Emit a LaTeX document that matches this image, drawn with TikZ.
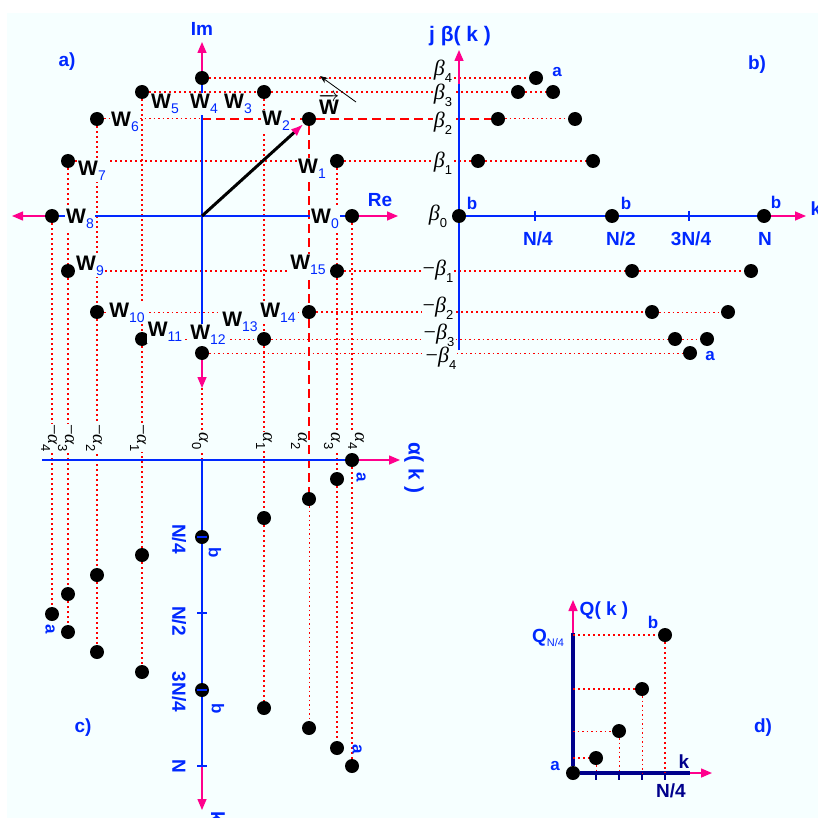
\documentclass[tikz,border=0pt]{standalone}
\usepackage{fontspec}
\setmainfont{Liberation Sans}
\newfontfamily\grkfont{Liberation Serif}
\usepackage{tikz}
\usetikzlibrary{arrows.meta,calc}
\definecolor{bgcyan}{RGB}{246,255,255}
\definecolor{axblue}{RGB}{0,40,255}
\definecolor{navyax}{RGB}{0,0,140}
\definecolor{tippink}{RGB}{255,0,140}
\definecolor{projred}{RGB}{255,0,0}
\tikzset{
    wdot/.style={
        circle,
        fill=black,
        inner sep=0pt,
        minimum size=14pt
    },
    proj/.style={
        projred,
        line width=1.6pt,
        dash pattern=on 2pt off 3pt
    },
    projthin/.style={
        projred,
        line width=1pt,
        dash pattern=on 1.5pt off 3pt
    },
    projdash/.style={
        projred,
        line width=1.3pt,
        dash pattern=on 9pt off 5pt
    },
    bluaxis/.style={
        axblue,
        line width=1.8pt
    },
    qaxis/.style={
        navyax,
        line width=3.5pt
    },
    tipline/.style={
        tippink,
        line width=1.5pt,
        -{Triangle[length=11pt,width=9pt]}
    },
    wvector/.style={
        black,
        line width=3pt,
        -{Latex[length=13pt,width=9pt,color=tippink]}
    },
    wlabel/.style={
        fill=bgcyan,
        inner sep=1pt,
        font=\fontsize{21}{21}\selectfont\bfseries
    },
    bluelabel/.style={
        text=axblue,
        font=\fontsize{19}{19}\selectfont\bfseries
    },
    smalllabel/.style={
        text=axblue,
        font=\fontsize{17}{17}\selectfont\bfseries
    },
    betalabel/.style={
        fill=bgcyan,
        inner sep=0.5pt,
        font=\fontsize{22}{22}\selectfont
    },
    alphalabel/.style={
        fill=bgcyan,
        inner sep=0.5pt,
        rotate=-90,
        font=\fontsize{19}{19}\selectfont
    }
}
\newcommand{\Wsub}[1]{W\textcolor{axblue}{\mdseries\fontsize{14}{14}\selectfont\raisebox{-5pt}{#1}}}
\newcommand{\Gsub}[3]{{\grkfont #1\itshape #2}\raisebox{-7pt}{\fontsize{13}{13}\selectfont #3}}

\begin{document}
\begin{tikzpicture}[x=1pt,y=-1pt]
        % Canvas
        \useasboundingbox (0,0) rectangle (818,818);
        \fill[white] (0,0) rectangle (818,818);
        \fill[bgcyan] (7,13) rectangle (818,818);

        % Panel a) points W_0 ... W_15
        \node[wdot] (w0) at (352,216) {};
        \node[wdot] (w1) at (337,161) {};
        \node[wdot] (w2) at (309,119) {};
        \node[wdot] (w3) at (264,92) {};
        \node[wdot] (w4) at (202,78) {};
        \node[wdot] (w5) at (142,92) {};
        \node[wdot] (w6) at (97,119) {};
        \node[wdot] (w7) at (68,161) {};
        \node[wdot] (w8) at (52,216) {};
        \node[wdot] (w9) at (68,271) {};
        \node[wdot] (w10) at (97,312) {};
        \node[wdot] (w11) at (142,339) {};
        \node[wdot] (w12) at (202,353) {};
        \node[wdot] (w13) at (264,339) {};
        \node[wdot] (w14) at (309,312) {};
        \node[wdot] (w15) at (337,271) {};
        \coordinate (o) at (202,216);
        \coordinate (im2) at (202,119);
        \coordinate (imtip) at (202,42);
        \coordinate (imbot) at (202,388);
        \coordinate (retip) at (398,216);
        \coordinate (retipl) at (12,216);
        \coordinate (rotA) at (356,102);
        \coordinate (rotB) at (320,76);

        % Panel b) points of j beta(k)
        \node[wdot] (b0) at (459,216) {};
        \node[wdot] (b1) at (478,161) {};
        \node[wdot] (b2) at (498,119) {};
        \node[wdot] (b3) at (518,92) {};
        \node[wdot] (b4) at (536,78) {};
        \node[wdot] (b5) at (553,92) {};
        \node[wdot] (b6) at (575,119) {};
        \node[wdot] (b7) at (593,161) {};
        \node[wdot] (b8) at (612,216) {};
        \node[wdot] (b9) at (632,271) {};
        \node[wdot] (b10) at (652,312) {};
        \node[wdot] (b11) at (675,339) {};
        \node[wdot] (b12) at (690,353) {};
        \node[wdot] (b13) at (707,339) {};
        \node[wdot] (b14) at (728,312) {};
        \node[wdot] (b15) at (751,271) {};
        \node[wdot] (b16) at (764,216) {};
        \coordinate (bbot) at (459,350);
        \coordinate (btop) at (459,84);
        \coordinate (btip) at (459,50);
        \coordinate (bktip) at (806,216);

        % Panel c) points of alpha(k)
        \node[wdot] (c0) at (352,460) {};
        \node[wdot] (c1) at (337,479) {};
        \node[wdot] (c2) at (309,499) {};
        \node[wdot] (c3) at (264,518) {};
        \node[wdot] (c4) at (202,537) {};
        \node[wdot] (c5) at (142,555) {};
        \node[wdot] (c6) at (97,575) {};
        \node[wdot] (c7) at (68,594) {};
        \node[wdot] (c8) at (52,614) {};
        \node[wdot] (c9) at (68,632) {};
        \node[wdot] (c10) at (97,652) {};
        \node[wdot] (c11) at (142,672) {};
        \node[wdot] (c12) at (202,690) {};
        \node[wdot] (c13) at (264,708) {};
        \node[wdot] (c14) at (309,728) {};
        \node[wdot] (c15) at (337,748) {};
        \node[wdot] (c16) at (352,766) {};
        \coordinate (caleft) at (42,460);
        \coordinate (ctip) at (400,460);
        \coordinate (cktop) at (202,460);
        \coordinate (ckN) at (202,766);
        \coordinate (cktip) at (202,810);

        % Panel d) points of Q(k)
        \node[wdot] (d0) at (573,773) {};
        \node[wdot] (d1) at (596,758) {};
        \node[wdot] (d2) at (619,731) {};
        \node[wdot] (d3) at (642,689) {};
        \node[wdot] (d4) at (665,635) {};
        \coordinate (qtop) at (573,633);
        \coordinate (qtip) at (573,600);
        \coordinate (kend) at (690,773);
        \coordinate (ktip) at (712,773);
        \coordinate (qy1) at (573,758);
        \coordinate (qy2) at (573,731);
        \coordinate (qy3) at (573,689);
        \coordinate (qy4) at (573,635);
        \coordinate (qk1) at (596,773);
        \coordinate (qk2) at (619,773);
        \coordinate (qk3) at (642,773);
        \coordinate (qk4) at (665,773);

        % Horizontal projections a) -> b)
        \draw[proj] (w4) -- (b4);
        \draw[proj] (w5) -- (w3);
        \draw[proj] (w3) -- (b3);
        \draw[proj] (b3) -- (b5);
        \draw[projthin] (w6) -- (im2);
        \draw[projdash] (im2) -- (w2);
        \draw[projdash] (w2) -- (b2);
        \draw[projthin] (b2) -- (b6);
        \draw[proj] (w7) -- (w1);
        \draw[proj] (w1) -- (b1);
        \draw[proj] (b1) -- (b7);
        \draw[proj] (w9) -- (w15);
        \draw[proj] (w15) -- (b9);
        \draw[proj] (b9) -- (b15);
        \draw[projthin] (w10) -- (w14);
        \draw[proj] (w14) -- (b10);
        \draw[projthin] (b10) -- (b14);
        \draw[projthin] (w11) -- (w13);
        \draw[projthin] (w13) -- (b11);
        \draw[projthin] (b11) -- (b13);
        \draw[projthin] (w12) -- (b12);

        % Vertical projections a) -> c)
        \draw[proj] (w8) -- (c8);
        \draw[proj] (w7) -- (w9);
        \draw[proj] (w9) -- (c7);
        \draw[proj] (c7) -- (c9);
        \draw[proj] (w6) -- (w10);
        \draw[proj] (w10) -- (c6);
        \draw[proj] (c6) -- (c10);
        \draw[proj] (w5) -- (w11);
        \draw[proj] (w11) -- (c5);
        \draw[proj] (c5) -- (c11);
        \draw[proj] (w3) -- (w13);
        \draw[proj] (w13) -- (c3);
        \draw[proj] (c3) -- (c13);
        \draw[projdash] (w2) -- (w14);
        \draw[projdash] (w14) -- (c2);
        \draw[projthin] (c2) -- (c14);
        \draw[proj] (w1) -- (w15);
        \draw[proj] (w15) -- (c1);
        \draw[proj] (c1) -- (c15);
        \draw[proj] (w0) -- (c0);
        \draw[proj] (c0) -- (c16);
        \draw[proj] (imbot) -- (cktop);

        % Axes of a)
        \draw[bluaxis] (w8) -- (w0);
        \draw[bluaxis] (w12) -- (w4);
        \draw[tipline] (w0) -- (retip);
        \draw[tipline] (w8) -- (retipl);
        \draw[tipline] (w4) -- (imtip);
        \draw[tipline] (w12) -- (imbot);
        \draw[wvector] (o) -- (w2);
        \draw[black, line width=0.8pt, -{Stealth[length=8pt,width=6pt]}] (rotA) -- (rotB);

        % Axes of b)
        \draw[bluaxis] (bbot) -- (b0);
        \draw[bluaxis] (b0) -- (btop);
        \draw[tipline] (btop) -- (btip);
        \draw[bluaxis] (b0) -- (b8);
        \draw[bluaxis] (b8) -- (b16);
        \draw[tipline] (b16) -- (bktip);
        \foreach \x in {535,689}
            \draw[axblue, line width=1.2pt] (\x,211) -- (\x,221);

        % Axes of c)
        \draw[bluaxis] (caleft) -- (c0);
        \draw[tipline] (c0) -- (ctip);
        \draw[bluaxis] (cktop) -- (c4);
        \draw[bluaxis] (c4) -- (c12);
        \draw[bluaxis] (c12) -- (ckN);
        \draw[tipline] (ckN) -- (cktip);
        \foreach \y in {537,613,690,766}
            \draw[axblue, line width=1.2pt] (197,\y) -- (207,\y);

        % Axes and projections of d)
        \draw[qaxis] (d0) -- (qtop);
        \draw[tipline] (qtop) -- (qtip);
        \draw[qaxis] (d0) -- (kend);
        \draw[tipline] (kend) -- (ktip);
        \foreach \x in {596,619,642,665}
            \draw[navyax, line width=2pt] (\x,773) -- (\x,780);
        \draw[proj] (qy1) -- (d1);
        \draw[projthin] (d1) -- (qk1);
        \draw[projthin] (qy2) -- (d2);
        \draw[projthin] (d2) -- (qk2);
        \draw[proj] (qy3) -- (d3);
        \draw[projthin] (d3) -- (qk3);
        \draw[proj] (qy4) -- (d4);
        \draw[proj] (d4) -- (qk4);

        % Labels of a)
        \node[wlabel] (lw0) at (325,219) {\Wsub{0}};
        \node[wlabel] (lw1) at (312,169) {\Wsub{1}};
        \node[wlabel] (lw2) at (276,121) {\Wsub{2}};
        \node[wlabel] (lw3) at (238,104) {\Wsub{3}};
        \node[wlabel] (lw4) at (204,104) {\Wsub{4}};
        \node[wlabel] (lw5) at (165,104) {\Wsub{5}};
        \node[wlabel] (lw6) at (125,122) {\Wsub{6}};
        \node[wlabel] (lw7) at (92,171) {\Wsub{7}};
        \node[wlabel] (lw8) at (80,219) {\Wsub{8}};
        \node[wlabel] (lw9) at (90,266) {\Wsub{9}};
        \node[wlabel] (lw10) at (127,313) {\Wsub{10}};
        \node[wlabel] (lw11) at (165,332) {\Wsub{11}};
        \node[wlabel] (lw12) at (208,335) {\Wsub{12}};
        \node[wlabel] (lw13) at (240,322) {\Wsub{13}};
        \node[wlabel] (lw14) at (278,313) {\Wsub{14}};
        \node[wlabel] (lw15) at (308,265) {\Wsub{15}};
        \node[font=\fontsize{21}{21}\selectfont] (lvec) at (329,104) {$\overrightarrow{\mbox{\bfseries W}}$};
        \node[bluelabel] (lim) at (202,29) {Im};
        \node[bluelabel] (lre) at (380,200) {Re};
        \node[bluelabel] (pa) at (67,62) {a)};

        % Labels of b)
        \node[bluelabel, font=\fontsize{21}{21}\selectfont\bfseries] (lbeta) at (460,36) {j β( k )};
        \node[betalabel] (lb4) at (443,71) {\Gsub{}{β}{4}};
        \node[betalabel] (lb3) at (443,95) {\Gsub{}{β}{3}};
        \node[betalabel] (lb2) at (443,123) {\Gsub{}{β}{2}};
        \node[betalabel] (lb1) at (443,163) {\Gsub{}{β}{1}};
        \node[betalabel] (lb0) at (438,216) {\Gsub{}{β}{0}};
        \node[betalabel] (lm1) at (438,271) {\Gsub{−}{β}{1}};
        \node[betalabel] (lm2) at (438,308) {\Gsub{−}{β}{2}};
        \node[betalabel] (lm3) at (439,335) {\Gsub{−}{β}{3}};
        \node[betalabel] (lm4) at (441,358) {\Gsub{−}{β}{4}};
        \node[bluelabel] (lbk1) at (538,239) {N/4};
        \node[bluelabel] (lbk2) at (621,239) {N/2};
        \node[bluelabel] (lbk3) at (691,239) {3N/4};
        \node[bluelabel] (lbk4) at (765,239) {N};
        \node[bluelabel] (lbk) at (816,209) {k};
        \node[smalllabel] (lba1) at (557,72) {a};
        \node[smalllabel] (lba2) at (710,356) {a};
        \node[smalllabel] (lbb0) at (472,203) {b};
        \node[smalllabel] (lbb1) at (626,203) {b};
        \node[smalllabel] (lbb2) at (776,202) {b};
        \node[bluelabel] (pb) at (757,65) {b)};

        % Labels of c)
        \node[alphalabel] (la0m4) at (49,438) {\Gsub{−}{α}{4}};
        \node[alphalabel] (la0m3) at (66,438) {\Gsub{−}{α}{3}};
        \node[alphalabel] (la0m2) at (94,438) {\Gsub{−}{α}{2}};
        \node[alphalabel] (la0m1) at (138,438) {\Gsub{−}{α}{1}};
        \node[alphalabel] (la00) at (200,441) {\Gsub{}{α}{0}};
        \node[alphalabel] (la01) at (264,441) {\Gsub{}{α}{1}};
        \node[alphalabel] (la02) at (299,441) {\Gsub{}{α}{2}};
        \node[alphalabel] (la03) at (332,441) {\Gsub{}{α}{3}};
        \node[alphalabel] (la04) at (356,441) {\Gsub{}{α}{4}};
        \node[bluelabel, rotate=-90, font=\fontsize{21}{21}\selectfont\bfseries] (lalpha) at (414,468) {α( k )};
        \node[bluelabel, rotate=-90] (lck1) at (179,539) {N/4};
        \node[bluelabel, rotate=-90] (lck2) at (179,621) {N/2};
        \node[bluelabel, rotate=-90] (lck3) at (179,692) {3N/4};
        \node[bluelabel, rotate=-90] (lck4) at (179,766) {N};
        \node[bluelabel, rotate=-90] (lck) at (218,817) {k};
        \node[smalllabel, rotate=-90] (lca0) at (361,477) {a};
        \node[smalllabel, rotate=-90] (lca1) at (50,629) {a};
        \node[smalllabel, rotate=-90] (lca2) at (357,749) {a};
        \node[smalllabel, rotate=-90] (lcb1) at (215,553) {b};
        \node[smalllabel, rotate=-90] (lcb2) at (218,709) {b};
        \node[bluelabel] (pc) at (83,728) {c)};

        % Labels of d)
        \node[bluelabel] (lq) at (604,611) {Q( k )};
        \node[bluelabel] (lqn) at (548,638) {Q\raisebox{-4pt}{\mdseries\fontsize{11}{11}\selectfont N/4}};
        \node[bluelabel, text=navyax] (ldk) at (684,762) {k};
        \node[bluelabel, text=navyax] (ldn) at (671,791) {N/4};
        \node[smalllabel] (lda) at (555,766) {a};
        \node[smalllabel] (ldb) at (653,622) {b};
        \node[bluelabel] (pd) at (763,728) {d)};
    \end{tikzpicture}
\end{document}
